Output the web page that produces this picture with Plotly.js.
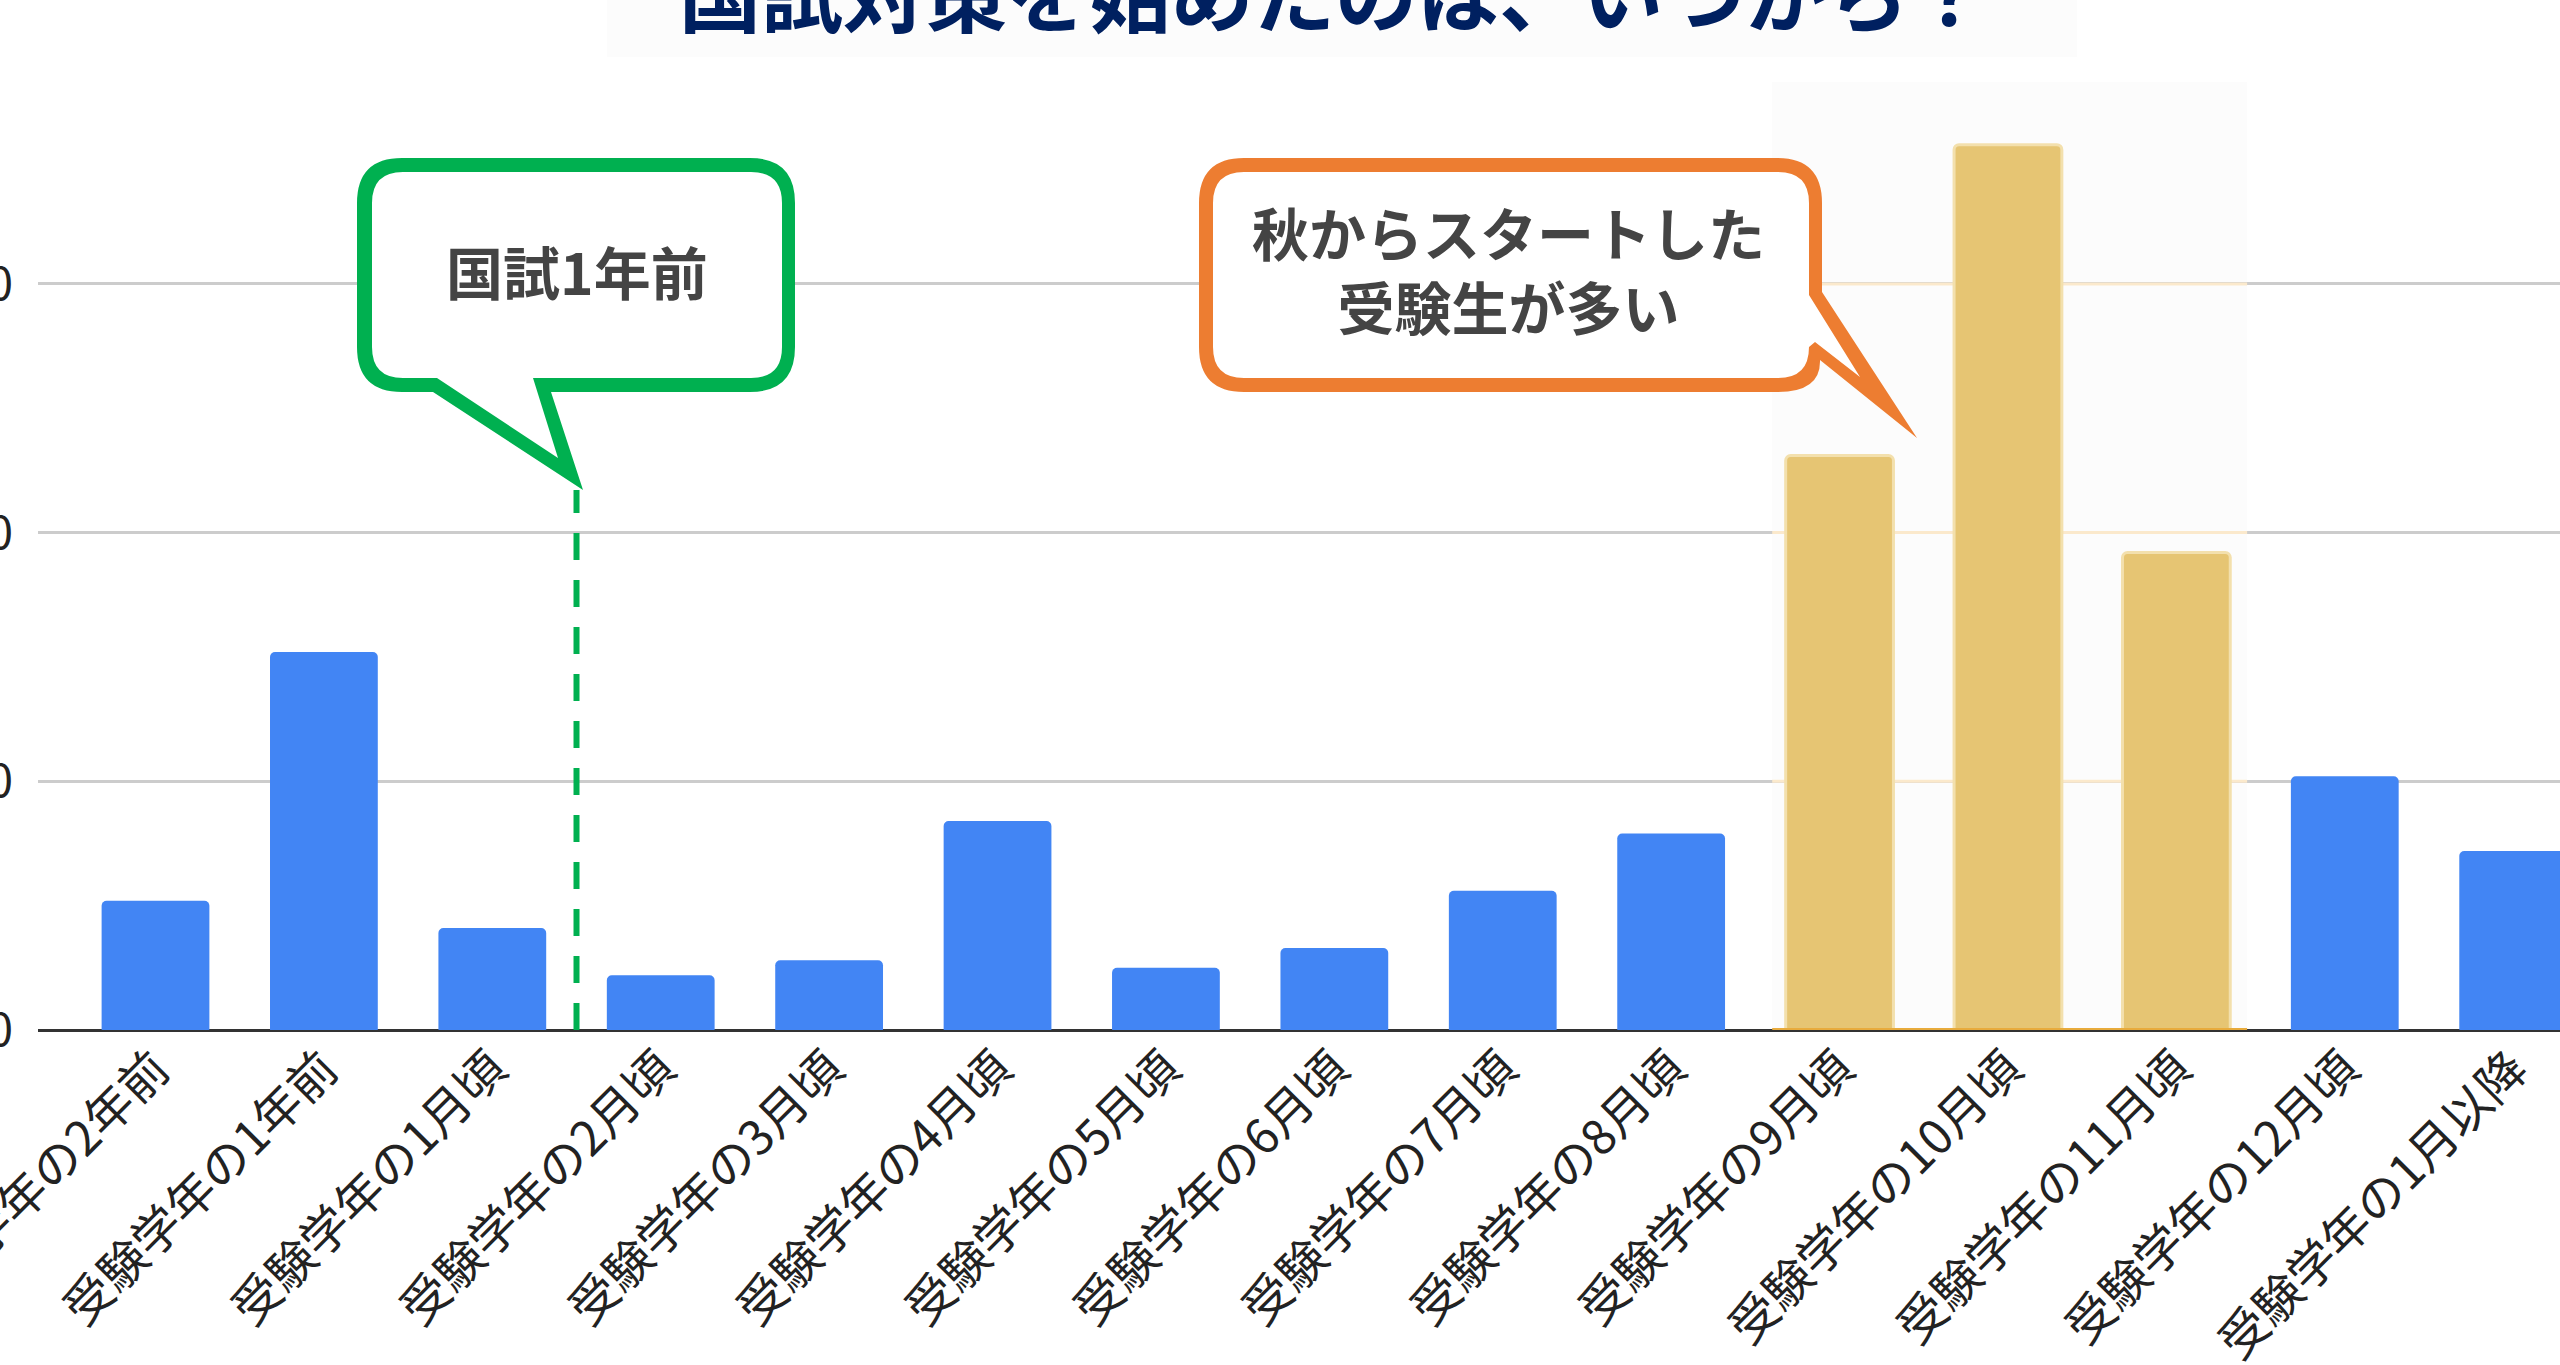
<!DOCTYPE html>
<html>
<head>
<meta charset="utf-8">
<script src="https://cdn.plot.ly/plotly-3.0.1.min.js"></script>
<style>
  html, body { margin: 0; padding: 0; background: #ffffff; overflow: hidden; }
  #chart { width: 2560px; height: 1365px; }
</style>
</head>
<body>
<div id="chart"></div>
<script>
// data
const categories = [
    '受験学年の2年前', '受験学年の1年前', '受験学年の1月頃', '受験学年の2月頃',
    '受験学年の3月頃', '受験学年の4月頃', '受験学年の5月頃', '受験学年の6月頃',
    '受験学年の7月頃', '受験学年の8月頃', '受験学年の9月頃', '受験学年の10月頃',
    '受験学年の11月頃', '受験学年の12月頃', '受験学年の1月以降'
];
const shares = [5.2, 15.2, 4.1, 2.2, 2.8, 8.4, 2.5, 3.3, 5.6, 7.9, 23.1, 35.6, 19.2, 10.2, 7.2];
const yTicks = [0, 10, 20, 30];
const autumnCats = ['受験学年の9月頃', '受験学年の10月頃', '受験学年の11月頃'];
const oneYearCat = '受験学年の1月頃';

const titleText = '国試対策を始めたのは、いつから？';
const noteOneYear = '国試1年前';
const noteAutumn = '秋からスタートした<br>受験生が多い';

// colours
const blue = '#4285f4';
const gold = '#e6c573';
const green = '#00b050';
const orange = '#ed7d31';
const FONT = '"Noto Sans CJK JP", "Noto Sans", sans-serif';

// plot box in pixels
const W = 2560, H = 1365;
const ML = 38, MT = 82, MB = 335;
const PW = W - ML, PH = H - MT - MB;
const xRange = [-0.6977, 14.278];
const yRange = [0, 38.12];

// pixel -> data, used for the hand drawn callouts
function px2x(px) { return xRange[0] + (px - ML) / PW * (xRange[1] - xRange[0]); }
function py2y(py) { return yRange[0] + (MT + PH - py) / PH * (yRange[1] - yRange[0]); }
function toPath(segs) {
    return segs.map(function (s) {
        let out = [];
        for (let i = 1; i < s.length; i += 2) {
            out.push(px2x(s[i]).toFixed(5) + ',' + py2y(s[i + 1]).toFixed(5));
        }
        return s[0] + out.join(' ');
    }).join(' ') + ' Z';
}

const isAutumn = categories.map(c => autumnCats.includes(c));
const bandX0 = categories.indexOf(autumnCats[0]) - 0.4;
const bandX1 = categories.indexOf(autumnCats[autumnCats.length - 1]) + 0.42;
const dashX = categories.indexOf(oneYearCat) + 0.5;

const data = [{
    type: 'bar',
    x: categories,
    y: shares,
    marker: {
        color: isAutumn.map(a => a ? gold : blue),
        cornerradius: 5,
        line: {
            color: isAutumn.map(a => a ? '#f3e0ad' : blue),
            width: isAutumn.map(a => a ? 3 : 0),
        },
    },
    hoverinfo: 'skip',
}];

// green bubble (outer ring then white inside)
const greenOuter = toPath([
    ['M', 402, 158], ['L', 750, 158], ['Q', 795, 158, 795, 203], ['L', 795, 347],
    ['Q', 795, 392, 750, 392], ['L', 551, 392], ['L', 583, 490], ['L', 433, 392],
    ['L', 402, 392], ['Q', 357, 392, 357, 347], ['L', 357, 203], ['Q', 357, 158, 402, 158]
]);
const greenInner = toPath([
    ['M', 403, 172], ['L', 751, 172], ['Q', 782, 172, 782, 203], ['L', 782, 347],
    ['Q', 782, 378, 751, 378], ['L', 533, 378], ['L', 558, 458], ['L', 437, 378],
    ['L', 403, 378], ['Q', 372, 378, 372, 347], ['L', 372, 203], ['Q', 372, 172, 403, 172]
]);
// orange bubble
const orangeOuter = toPath([
    ['M', 1244, 158], ['L', 1777, 158], ['Q', 1822, 158, 1822, 203], ['L', 1822, 292],
    ['L', 1917, 438], ['L', 1820, 360], ['Q', 1821, 392, 1777, 392], ['L', 1244, 392],
    ['Q', 1199, 392, 1199, 347], ['L', 1199, 203], ['Q', 1199, 158, 1244, 158]
]);
const orangeInner = toPath([
    ['M', 1244, 172], ['L', 1778, 172], ['Q', 1809, 172, 1809, 203], ['L', 1809, 295],
    ['L', 1860, 377], ['L', 1815, 342], ['L', 1809, 347], ['Q', 1809, 378, 1778, 378],
    ['L', 1244, 378], ['Q', 1213, 378, 1213, 347], ['L', 1213, 203], ['Q', 1213, 172, 1244, 172]
]);

const shapes = [{ // title backdrop
    type: 'rect', xref: 'paper', yref: 'paper', layer: 'below',
    x0: (607 - ML) / PW, x1: (2077 - ML) / PW,
    y0: (MT + PH - 57) / PH, y1: (MT + PH + 5) / PH,
    fillcolor: '#fcfcfc', line: { width: 0 },
}, { // autumn band
    type: 'rect', xref: 'x', yref: 'paper', layer: 'between',
    x0: bandX0, x1: bandX1, y0: 0, y1: 1,
    fillcolor: '#fcfcfc', line: { width: 0 },
}];
yTicks.filter(v => v > 0).forEach(function (v) { // tinted grid inside band
    shapes.push({
        type: 'line', xref: 'x', yref: 'y', layer: 'between',
        x0: bandX0, x1: bandX1, y0: v, y1: v,
        line: { color: '#fbe9cc', width: 3 },
    });
});
shapes.push({ // band baseline
    type: 'line', xref: 'x', yref: 'y', layer: 'above',
    x0: bandX0, x1: bandX1, y0: 0, y1: 0,
    line: { color: '#e8ab3c', width: 4 },
}, { // one year before marker
    type: 'line', xref: 'x', yref: 'y', layer: 'above',
    x0: dashX, x1: dashX, y0: 0, y1: py2y(490),
    line: { color: green, width: 6, dash: '27px,20px' },
}, {
    type: 'path', xref: 'x', yref: 'y', layer: 'above', path: greenOuter,
    fillcolor: green, line: { width: 0 },
}, {
    type: 'path', xref: 'x', yref: 'y', layer: 'above', path: greenInner,
    fillcolor: '#ffffff', line: { width: 0 },
}, {
    type: 'path', xref: 'x', yref: 'y', layer: 'above', path: orangeOuter,
    fillcolor: orange, line: { width: 0 },
}, {
    type: 'path', xref: 'x', yref: 'y', layer: 'above', path: orangeInner,
    fillcolor: '#ffffff', line: { width: 0 },
});

const noteFont = { family: FONT, size: 57, color: '#444444', weight: 'bold' };
const annotations = [{
    x: px2x(577), y: py2y(270), xref: 'x', yref: 'y',
    text: noteOneYear, showarrow: false, xanchor: 'center', yanchor: 'middle',
    font: noteFont,
}, {
    x: px2x(1508), y: py2y(268), xref: 'x', yref: 'y',
    text: noteAutumn, showarrow: false, xanchor: 'center', yanchor: 'middle',
    font: noteFont,
}];

const layout = {
    width: W,
    height: H,
    margin: { l: ML, r: 0, t: MT, b: MB, pad: 0 },
    paper_bgcolor: '#ffffff',
    plot_bgcolor: '#ffffff',
    showlegend: false,
    bargap: 0.36,
    title: {
        text: titleText,
        x: 1335 / W, xanchor: 'center',
        y: 1 - 26 / H, yanchor: 'bottom', yref: 'container',
        font: { family: FONT, size: 82, color: '#002060', weight: 'bold' },
    },
    xaxis: {
        type: 'category',
        range: xRange,
        tickangle: -45,
        showgrid: false,
        showline: false,
        ticks: '',
        tickfont: { family: FONT, size: 48, color: '#222222' },
        automargin: false,
    },
    yaxis: {
        range: yRange,
        tickvals: yTicks,
        ticktext: yTicks.map(String),
        showgrid: true,
        gridcolor: '#cccccc',
        gridwidth: 3,
        zeroline: true,
        zerolinecolor: '#333333',
        zerolinewidth: 3,
        ticks: '',
        ticklabelstandoff: 24,
        tickfont: { family: FONT, size: 46, color: '#222222' },
        automargin: false,
    },
    shapes: shapes,
    annotations: annotations,
};

const config = { staticPlot: true, displayModeBar: false, responsive: false };

Plotly.newPlot('chart', data, layout, config);
</script>
</body>
</html>
